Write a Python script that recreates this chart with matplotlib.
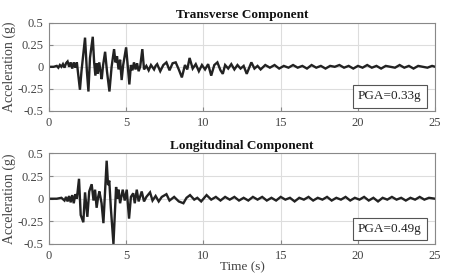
import matplotlib
matplotlib.use("Agg")
import matplotlib.pyplot as plt

plt.rcParams['font.family'] = ['Liberation Serif', 'DejaVu Serif']

# Transverse component (time s, acceleration g)
t_trans = [0, 0.3, 0.5, 0.6, 0.7, 0.8, 0.9, 1.0, 1.1, 1.2, 1.3, 1.4, 1.5, 1.6, 1.7, 1.8,
           1.9, 2.0, 2.1, 2.2, 2.33, 2.45, 2.55, 2.65, 2.83, 2.92, 3.0, 3.08, 3.15, 3.25,
           3.33, 3.41, 3.5, 3.63, 3.75, 3.91, 4.05, 4.21, 4.3, 4.4, 4.5, 4.6, 4.7, 4.8,
           4.99, 5.1, 5.2, 5.3, 5.4, 5.5, 5.6, 5.7, 5.8, 5.9, 6.04, 6.15, 6.3, 6.45, 6.6,
           6.8, 6.9, 7.0, 7.2, 7.4, 7.6, 7.8, 8.0, 8.2, 8.4, 8.6, 8.8, 8.95, 9.1, 9.3, 9.5,
           9.7, 9.9, 10.1, 10.3, 10.5, 10.7, 10.9, 11.1, 11.25, 11.4, 11.6, 11.8, 12.0,
           12.2, 12.4, 12.6, 12.8, 13.1, 13.3, 13.5, 13.7, 14.0, 14.3, 14.6, 14.9, 15.2,
           15.5, 15.8, 16.1, 16.4, 16.7, 17.0, 17.3, 17.6, 17.9, 18.2, 18.5, 18.8, 19.1,
           19.4, 19.7, 20.0, 20.3, 20.6, 20.9, 21.2, 21.5, 21.8, 22.1, 22.4, 22.7, 23.0,
           23.3, 23.6, 23.9, 24.2, 24.5, 24.8, 25.0]
a_trans = [0, 0, 0.01, -0.01, 0.02, 0.0, 0.03, -0.01, 0.04, 0.06, 0.0, 0.05, -0.02, 0.05, -0.01, 0.05,
           -0.1, -0.26, -0.05, 0.12, 0.33, -0.05, -0.28, 0.1, 0.34, 0.05, -0.1, 0.04, -0.08, 0.05,
           -0.05, -0.14, 0.02, 0.17, -0.05, -0.28, 0.0, 0.2, 0.05, 0.12, -0.03, 0.08, -0.15, 0.02,
           0.22, 0.0, -0.2, 0.02, -0.04, 0.05, -0.03, 0.04, -0.05, 0.0, 0.2, -0.03, 0.01, -0.04, 0.02,
           -0.03, 0.01, 0.03, -0.05, 0.02, 0.05, -0.04, 0.04, 0.05, -0.03, -0.12, 0.02, -0.03, 0.1, -0.02, 0.03,
           -0.05, 0.02, -0.03, 0.03, -0.1, 0.02, 0.05, -0.04, -0.08, 0.02, -0.02, 0.03, -0.03,
           0.02, -0.02, 0.01, -0.08, 0.05, -0.02, 0.01, -0.03, 0.02, -0.01, 0.02, -0.02, 0.01,
           -0.01, 0.02, -0.01, 0.01, -0.02, 0.02, -0.01, 0.01, -0.02, 0.01, 0.0, 0.02, -0.01,
           0.01, -0.02, 0.01, -0.01, 0.02, -0.01, 0.01, -0.02, 0.01, 0.0, -0.01, 0.02, -0.01,
           0.01, -0.02, 0.01, 0.0, -0.01, 0.01, 0.0]

# Longitudinal component
t_long = [0, 0.5, 0.8, 1.0, 1.1, 1.2, 1.3, 1.4, 1.5, 1.6, 1.7, 1.8, 1.94, 2.05, 2.22, 2.33,
          2.48, 2.6, 2.76, 2.88, 2.98, 3.08, 3.18, 3.26, 3.4, 3.52, 3.73, 3.82, 3.9, 4.0,
          4.17, 4.34, 4.42, 4.5, 4.6, 4.77, 4.9, 5.03, 5.18, 5.3, 5.45, 5.55, 5.68, 5.8,
          6.0, 6.15, 6.3, 6.54, 6.7, 6.9, 7.1, 7.3, 7.6, 7.8, 8.1, 8.4, 8.7, 8.9, 9.13,
          9.4, 9.6, 9.85, 10.2, 10.5, 10.8, 11.1, 11.4, 11.7, 12.0, 12.3, 12.6, 12.9,
          13.2, 13.5, 13.8, 14.1, 14.4, 14.7, 15.0, 15.3, 15.6, 15.9, 16.2, 16.5, 16.8,
          17.1, 17.4, 17.7, 18.0, 18.3, 18.6, 18.9, 19.2, 19.5, 19.8, 20.1, 20.4, 20.7,
          21.0, 21.3, 21.6, 21.9, 22.2, 22.5, 22.8, 23.1, 23.4, 23.7, 24.0, 24.3, 24.6, 25.0]
a_long = [0, 0, 0.01, -0.02, 0.02, -0.03, 0.03, -0.04, 0.04, -0.05, 0.05, 0.0, 0.22, -0.18, -0.26, 0.07,
          -0.2, 0.08, 0.16, -0.02, 0.1, -0.1, 0.02, 0.08, -0.05, -0.27, 0.42, 0.15, 0.2, -0.1,
          -0.5, 0.13, 0.0, 0.1, -0.05, 0.1, -0.02, 0.1, -0.22, 0.02, 0.06, -0.05, 0.1, -0.03,
          0.08, -0.03, 0.02, 0.07, -0.02, 0.03, -0.03, 0.02, 0.05, -0.02, 0.02, -0.03, -0.05, 0.01, 0.04,
          -0.01, 0.01, -0.03, 0.04, -0.01, 0.02, -0.02, 0.02, -0.01, 0.02, -0.02, 0.01, -0.02,
          0.02, -0.01, 0.02, -0.02, 0.01, -0.02, 0.02, -0.01, 0.01, -0.03, 0.01, -0.01, 0.02,
          -0.02, 0.01, -0.01, 0.02, -0.02, 0.01, -0.01, 0.02, -0.02, 0.01, -0.01, 0.02, -0.02,
          0.01, -0.03, 0.01, -0.01, 0.02, -0.01, 0.01, -0.02, 0.01, -0.01, 0.02, -0.01, 0.01, 0.0]

titles = ["Transverse Component", "Longitudinal Component"]
pga_labels = ["PGA=0.33g", "PGA=0.49g"]
x_ticks = [0, 5, 10, 15, 20, 25]
y_ticks = [-0.5, -0.25, 0, 0.25, 0.5]
y_tick_labels = ["-0.5", "-0.25", "0", "0.25", "0.5"]

fig = plt.figure(figsize=(4.5, 2.76), dpi=100)
ax1 = fig.add_axes([0.109, 0.598, 0.858, 0.320])
ax2 = fig.add_axes([0.109, 0.116, 0.858, 0.328])

series = [(t_trans, a_trans), (t_long, a_long)]
for ax, (t, a), title, pga in zip([ax1, ax2], series, titles, pga_labels):
    ax.plot(t, a, color='#222222', lw=1.7, solid_joinstyle='miter')
    ax.set_xlim(0, 25)
    ax.set_ylim(-0.5, 0.5)
    ax.set_xticks(x_ticks)
    ax.set_yticks(y_ticks)
    ax.set_yticklabels(y_tick_labels)
    ax.grid(True, color='#dddddd', lw=0.8)
    ax.set_axisbelow(True)
    for s in ax.spines.values():
        s.set_color('#888888')
        s.set_linewidth(0.8)
    ax.tick_params(direction='in', length=3, color='#888888', labelsize=9,
                   labelcolor='#444444', pad=4)
    ax.tick_params(top=False, right=False)
    ax.set_title(title, fontsize=9.5, fontweight='bold', pad=3, color='#111111')
    ax.set_ylabel("Acceleration (g)", fontsize=10, color='#444444', labelpad=1)
    ax.text(0.80, 0.13, pga, transform=ax.transAxes, fontsize=9.5, color='#222222',
            bbox=dict(boxstyle='square,pad=0.4', fc='white', ec='#555555', lw=0.8))

ax2.set_xlabel("Time (s)", fontsize=9.5, color='#444444', labelpad=0)

fig.savefig("out.png", dpi=100)
